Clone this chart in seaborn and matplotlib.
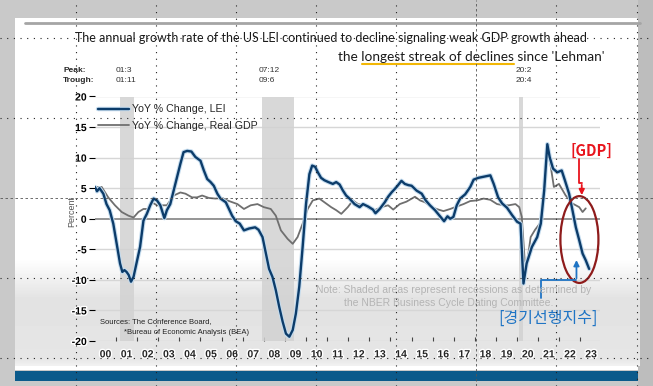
import numpy as np
import pandas as pd
import matplotlib
matplotlib.use("Agg")
import matplotlib.pyplot as plt
import matplotlib.patheffects as pe
from matplotlib.lines import Line2D
from matplotlib.patches import Rectangle, Ellipse
import seaborn as sns

# LEI, YoY % change
lei_year = [2000.00, 2000.10, 2000.22, 2000.40, 2000.55, 2000.70, 2000.87, 2001.03, 2001.19, 2001.30,
            2001.40, 2001.50, 2001.60, 2001.71, 2001.83, 2001.98, 2002.14, 2002.30, 2002.46, 2002.62,
            2002.78, 2002.94, 2003.10, 2003.29, 2003.41, 2003.57, 2003.73, 2003.89, 2004.05, 2004.20,
            2004.37, 2004.57, 2004.76, 2005.00, 2005.16, 2005.32, 2005.48, 2005.63, 2005.80, 2005.95,
            2006.20, 2006.35, 2006.50, 2006.67, 2006.86, 2007.06, 2007.30, 2007.59, 2007.75, 2007.94,
            2008.10, 2008.25, 2008.41, 2008.57, 2008.73, 2008.89, 2009.05, 2009.21, 2009.37, 2009.52,
            2009.68, 2009.84, 2010.00, 2010.16, 2010.29, 2010.43, 2010.56, 2010.71, 2010.87, 2011.06,
            2011.27, 2011.43, 2011.59, 2011.75, 2011.90, 2012.06, 2012.30, 2012.54, 2012.70, 2012.94,
            2013.17, 2013.29, 2013.49, 2013.73, 2013.89, 2014.05, 2014.29, 2014.52, 2014.68, 2014.85,
            2015.00, 2015.24, 2015.48, 2015.67, 2015.87, 2016.11, 2016.35, 2016.54, 2016.70, 2016.83,
            2016.98, 2017.14, 2017.30, 2017.54, 2017.78, 2017.94, 2018.17, 2018.46, 2018.73, 2018.89,
            2019.10, 2019.29, 2019.52, 2019.76, 2020.00, 2020.16, 2020.30, 2020.45, 2020.70, 2020.95,
            2021.12, 2021.28, 2021.43, 2021.54, 2021.70, 2021.90, 2022.11, 2022.27, 2022.46, 2022.62,
            2022.78, 2022.94, 2023.10, 2023.25, 2023.41]
lei_value = [5.2, 4.5, 5.0, 4.1, 2.4, 1.4, -0.8, -4.1, -7.3, -8.7,
             -8.4, -8.7, -9.2, -10.3, -9.5, -7.1, -4.6, -0.3, 0.8, 2.2,
             3.3, 3.0, 2.2, 0.1, 1.4, 2.4, 4.6, 6.8, 9.0, 10.9,
             11.1, 11.0, 10.1, 9.5, 7.9, 6.5, 6.0, 5.4, 4.1, 3.3,
             2.7, 1.6, 0.5, -0.4, -0.8, -1.9, -1.6, -1.4, -1.8, -3.0,
             -5.7, -8.2, -9.5, -11.7, -14.4, -16.8, -18.8, -19.3, -18.2, -15.5,
             -11.1, -4.6, 2.4, 7.3, 8.7, 8.5, 7.6, 6.7, 6.3, 6.0,
             5.7, 6.0, 5.6, 4.6, 3.8, 3.3, 2.4, 1.9, 2.4, 2.0,
             1.5, 0.9, 1.6, 2.7, 3.6, 4.3, 5.2, 6.2, 5.7, 5.5,
             5.4, 4.6, 4.1, 3.0, 2.2, 1.4, 0.4, -0.4, 0.4, 0.0,
             0.3, 2.2, 3.3, 4.0, 5.2, 6.4, 6.7, 6.9, 7.1, 5.7,
             3.5, 2.5, 1.8, 0.6, -0.5, -0.8, -10.6, -7.3, -4.6, -3.0,
             -0.8, 4.6, 12.2, 10.1, 8.2, 7.6, 7.9, 6.2, 4.1, 1.4,
             -1.4, -3.5, -5.7, -6.8, -8.2]

# Real GDP, YoY % change
gdp_year = [2000.00, 2000.32, 2000.63, 2000.95, 2001.27, 2001.59, 2001.83, 2002.06, 2002.30, 2002.54,
            2002.70, 2002.94, 2003.17, 2003.41, 2003.73, 2004.05, 2004.29, 2004.60, 2004.84, 2005.08,
            2005.40, 2005.71, 2006.03, 2006.27, 2006.51, 2006.75, 2007.06, 2007.38, 2007.70, 2008.00,
            2008.33, 2008.57, 2008.81, 2009.13, 2009.37, 2009.60, 2009.84, 2010.08, 2010.32, 2010.63,
            2010.87, 2011.19, 2011.43, 2011.67, 2011.98, 2012.22, 2012.46, 2012.78, 2013.02, 2013.25,
            2013.57, 2013.89, 2014.13, 2014.44, 2014.76, 2015.16, 2015.40, 2015.63, 2015.95, 2016.27,
            2016.51, 2016.83, 2017.14, 2017.46, 2017.78, 2018.10, 2018.41, 2018.73, 2019.05, 2019.37,
            2019.60, 2019.92, 2020.10, 2020.22, 2020.40, 2020.64, 2020.85, 2021.18, 2021.43, 2021.74,
            2021.98, 2022.30, 2022.62, 2022.94, 2023.10, 2023.25]
gdp_value = [5.2, 5.2, 3.5, 2.2, 1.1, 0.5, 0.2, 1.1, 1.6, 1.6,
             2.7, 2.2, 2.2, 2.2, 3.8, 4.3, 4.1, 3.5, 3.5, 3.8,
             3.4, 3.3, 3.4, 3.0, 2.7, 2.4, 1.6, 2.2, 2.4, 1.9,
             1.6, 0.5, -1.9, -3.3, -4.1, -3.0, -0.8, 1.6, 3.0, 3.3,
             2.7, 1.9, 1.4, 0.8, 1.9, 3.0, 2.4, 2.2, 1.6, 1.4,
             1.9, 2.2, 1.5, 2.4, 2.8, 3.6, 3.0, 2.7, 1.9, 1.5,
             1.25, 1.6, 2.0, 2.4, 2.9, 3.0, 3.3, 3.1, 2.4, 2.2,
             2.2, 2.4, 1.9, 0.3, -9.0, -3.0, -1.8, -0.3, 12.2, 5.2,
             5.7, 3.8, 2.5, 1.9, 1.1, 1.7]

# NBER recessions (start, end)
recessions = [(2001.17, 2001.85), (2007.92, 2009.45), (2020.10, 2020.30)]
peak_labels = ["01:3", "07:12", "20:2"]
trough_labels = ["01:11", "09:6", "20:4"]
year_labels = [f"{y:02d}" for y in range(0, 24)]

lei = pd.DataFrame({"year": lei_year, "value": lei_value})
gdp = pd.DataFrame({"year": gdp_year, "value": gdp_value})

sns.set_style("white")
plt.rcParams["font.family"] = ["Liberation Sans", "DejaVu Sans"]

W, H = 653, 386
fig = plt.figure(figsize=(W / 100, H / 100), dpi=100)
fig.patch.set_facecolor("#c9c9c9")


def fx(x):
    return x / W


def fy(y):
    return 1 - y / H


# slide background
fig.add_artist(Rectangle((fx(15), fy(370)), fx(625), 352 / H, transform=fig.transFigure,
                         facecolor="white", edgecolor="none", zorder=0))
gax = fig.add_axes([fx(15), fy(366), fx(625), 108 / H], zorder=0)
grad = np.interp(np.arange(108), [0, 40, 100, 108], [1.0, 0.89, 0.90, 0.95])[:, None]
gax.imshow(grad, aspect="auto", cmap="gray", vmin=0, vmax=1, extent=[0, 1, 0, 1])
gax.axis("off")
fig.add_artist(Rectangle((fx(15), fy(381)), fx(628), 10 / H, transform=fig.transFigure,
                         facecolor="#0b5a8b", edgecolor="none", zorder=0))
fig.add_artist(Rectangle((fx(638), 0), fx(15), 1, transform=fig.transFigure,
                         facecolor="#bdbdbd", edgecolor="none", zorder=0))
fig.add_artist(Line2D([fx(25), fx(640)], [fy(23), fy(23)], transform=fig.transFigure,
                      color="#a5a5a5", lw=2, zorder=0))

ax = fig.add_axes([fx(94.9), fy(341), fx(505), 244.5 / H], zorder=2)
ax.patch.set_alpha(0)

for lo, hi in recessions:
    ax.axvspan(lo, hi, color="#d2d2d2", alpha=0.85, lw=0, zorder=1)
for v in [-20, -15, -10, -5, 5, 10, 15, 20]:
    ax.axhline(v, color="#d6d6d6", lw=1, zorder=0.5)
ax.axhline(0, color="#8c8c8c", lw=1.3, zorder=1.5)

sns.lineplot(data=gdp, x="year", y="value", ax=ax, color="#6f6f6f", lw=1.3,
             estimator=None, sort=False, label="YoY % Change, Real GDP", zorder=3)
sns.lineplot(data=lei, x="year", y="value", ax=ax, color="#0c3c6a", lw=1.7,
             estimator=None, sort=False, label="YoY % Change, LEI", zorder=4,
             path_effects=[pe.Stroke(linewidth=3.2, foreground="#c3dbee"), pe.Normal()])

h, l = ax.get_legend_handles_labels()
leg = ax.legend(h[::-1], l[::-1], loc="upper left", bbox_to_anchor=(-0.005, 0.99), frameon=False,
                prop={"size": 7.7}, handlelength=2.9, labelspacing=0.6, borderaxespad=0.1,
                handletextpad=0.35)

ax.set_xlim(2000, 2023.92)
ax.set_ylim(-20, 20)
for s in ax.spines.values():
    s.set_visible(False)
ax.set_xlabel("")
ax.set_ylabel("")

halo = [pe.withStroke(linewidth=2, foreground="white")]
ax.set_yticks(range(-20, 21, 5))
ax.set_yticklabels([str(v) for v in range(-20, 21, 5)], fontsize=7.5, fontweight="bold")
ax.tick_params(axis="y", direction="out", length=4, width=0.8, pad=2, left=True, colors="black")

ax.set_xticks(range(2001, 2024))
ax.set_xticklabels([])
ax.set_xticks([2000.5 + i for i in range(len(year_labels))], minor=True)
ax.set_xticklabels(year_labels, minor=True, fontsize=7.5, fontweight="bold")
ax.tick_params(axis="x", which="major", direction="in", length=3, width=0.8, bottom=True, color="#444")
ax.tick_params(axis="x", which="minor", length=0, pad=6)
for t in ax.get_xticklabels(minor=True) + ax.get_yticklabels():
    t.set_path_effects(halo)

# text around the chart
fig.text(fx(331), fy(38), "The annual growth rate of the US LEI continued to decline signaling weak GDP growth ahead",
         ha="center", va="center", fontsize=9, color="#1a1a1a", family=["Lato", "DejaVu Sans"])

sub_kw = dict(fontsize=9.8, color="#1a1a1a", family=["Lato", "DejaVu Sans"])
renderer = fig.canvas.get_renderer()


def text_w(s):
    t = fig.text(0, 0, s, **sub_kw)
    w = t.get_window_extent(renderer).width
    t.remove()
    return w


sub = "the longest streak of declines since 'Lehman'"
x_start = 605 - text_w(sub)
fig.text(fx(x_start), fy(57), sub, ha="left", va="center", **sub_kw)
u0 = x_start + text_w("the l") - text_w("l")
u1 = x_start + text_w("the longest streak of declines")
fig.add_artist(Line2D([fx(u0), fx(u1)], [fy(64), fy(64)], transform=fig.transFigure,
                      color="#f2b705", lw=1.5, zorder=3))

fig.text(fx(63), fy(70), "Peak:", fontsize=6, fontweight="bold", va="center")
fig.text(fx(63), fy(81), "Trough:", fontsize=6, fontweight="bold", va="center")
for (lo, hi), p, t in zip(recessions, peak_labels, trough_labels):
    xp = 94.9 + (lo - 2000) * 21.12
    fig.text(fx(xp - 4), fy(70), p, fontsize=6, color="#333", va="center")
    fig.text(fx(xp - 4), fy(81), t, fontsize=6, color="#333", va="center")

fig.text(fx(72), fy(211), "Percent", rotation=90, fontsize=6.5, color="#555", ha="center", va="center")

fig.text(fx(454), fy(290), "Note: Shaded areas represent recessions as determined by",
         ha="center", va="center", fontsize=7.5, color="#b4b4b4", zorder=3)
fig.text(fx(449), fy(303), "the NBER Business Cycle Dating Committee.",
         ha="center", va="center", fontsize=7.5, color="#b4b4b4", zorder=3)

fig.text(fx(100), fy(322), "Sources: The Conference Board,", fontsize=5.5, color="#222", va="center")
fig.text(fx(124), fy(333), "*Bureau of Economic Analysis (BEA)", fontsize=5.5, color="#222", va="center")

# highlight annotations
ax.add_patch(Ellipse((2022.95, -3.4), 1.8, 14.2, fill=False, edgecolor="#8e1b1b", lw=1.6, zorder=6))
ax.text(2023.53, 11.1, "[GDP]", color="#e8141c", fontsize=10.5, fontweight="bold", ha="center",
        va="center", family=["Noto Sans CJK KR", "DejaVu Sans"], zorder=6)
ax.plot([2022.92, 2022.92, 2023.06], [9.8, 5.9, 5.9], color="#e8141c", lw=1.3, zorder=6)
ax.annotate("", xy=(2023.06, 3.4), xytext=(2023.06, 6.0),
            arrowprops=dict(arrowstyle="-|>", color="#e8141c", lw=1.3, mutation_scale=8), zorder=6)

ax.text(2021.45, -16.3, "[경기선행지수]", color="#1f74c4", fontsize=11.5, fontweight="medium",
        ha="center", va="center", family=["Noto Sans CJK KR", "DejaVu Sans"], zorder=6)
ax.plot([2021.11, 2021.11, 2022.81], [-13.0, -10.1, -10.1], color="#1f74c4", lw=1.3, zorder=6)
ax.annotate("", xy=(2022.81, -6.3), xytext=(2022.81, -10.2),
            arrowprops=dict(arrowstyle="-|>", color="#1f74c4", lw=1.3, mutation_scale=8), zorder=6)

# screen guide lines of the slide editor
for gx in [76, 156, 236, 316, 396, 556, 637]:
    fig.add_artist(Line2D([fx(gx), fx(gx)], [0, 1], transform=fig.transFigure, color="#222",
                          lw=0.8, ls=(0, (1, 5)), zorder=10))
for gy in [38, 118, 278, 358]:
    fig.add_artist(Line2D([0, 1], [fy(gy), fy(gy)], transform=fig.transFigure, color="#222",
                          lw=0.8, ls=(0, (1, 5)), zorder=10))
fig.add_artist(Line2D([fx(476), fx(476)], [0, 1], transform=fig.transFigure, color="#555",
                      lw=0.6, ls=(0, (3, 3)), zorder=10))
fig.add_artist(Line2D([0, 1], [fy(198), fy(198)], transform=fig.transFigure, color="#555",
                      lw=0.6, ls=(0, (3, 3)), zorder=10))

fig.savefig("out.png", dpi=100)
